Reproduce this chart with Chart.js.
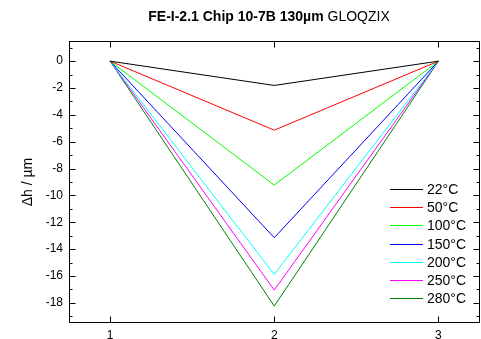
<!DOCTYPE html>
<html>
<head>
<meta charset="utf-8">
<script src="https://cdn.jsdelivr.net/npm/chart.js@4"></script>
<style>
  html, body { margin: 0; padding: 0; background: #fff; }
  #wrap { width: 481px; height: 339px; }
</style>
</head>
<body>
<div id="wrap"><canvas id="grafico"></canvas></div>
<script>
// dados
const posicoes = [1, 2, 3]
const temperaturas = ['22°C', '50°C', '100°C', '150°C', '200°C', '250°C', '280°C']
const h22 = [0, -1.81, 0]
const h50 = [0, -5.14, 0]
const h100 = [0, -9.23, 0]
const h150 = [0, -13.15, 0]
const h200 = [0, -15.88, 0]
const h250 = [0, -17.05, 0]
const h280 = [0, -18.24, 0]
const xTicks = [1, 2, 3]
const yTicks = [0, -2, -4, -6, -8, -10, -12, -14, -16, -18]
const yMinor = [1, -1, -3, -5, -7, -9, -11, -13, -15, -17, -19]

const cores = ['#000000', '#ff0000', '#00ff00', '#0000ff', '#00ffff', '#ff00ff', '#008000']
const series = [h22, h50, h100, h150, h200, h250, h280]

const fonte = 'Arial, "Liberation Sans", sans-serif'

const datasets = series.map((s, i) => ({
  label: temperaturas[i],
  data: posicoes.map((x, j) => ({ x, y: s[j] })),
  borderColor: cores[i],
  borderWidth: 1,
  pointRadius: 0,
  fill: false,
  tension: 0
}))

// moldura com ticks para dentro
const moldura = {
  id: 'moldura',
  afterDraw(chart) {
    const c = chart.ctx
    const a = chart.chartArea
    const sx = chart.scales.x, sy = chart.scales.y
    c.save()
    c.strokeStyle = '#000'
    c.lineWidth = 1
    const L = Math.round(a.left) + 0.5, R = Math.round(a.right) - 0.5
    const T = Math.round(a.top) + 0.5, B = Math.round(a.bottom) - 0.5
    c.strokeRect(L, T, R - L, B - T)
    c.beginPath()
    yTicks.forEach(v => {
      const p = Math.round(sy.getPixelForValue(v)) + 0.5
      c.moveTo(L, p); c.lineTo(L + 6, p)
      c.moveTo(R, p); c.lineTo(R - 6, p)
    })
    yMinor.forEach(v => {
      const p = Math.round(sy.getPixelForValue(v)) + 0.5
      c.moveTo(L, p); c.lineTo(L + 3, p)
      c.moveTo(R, p); c.lineTo(R - 3, p)
    })
    xTicks.forEach(v => {
      const p = Math.round(sx.getPixelForValue(v)) + 0.5
      c.moveTo(p, B); c.lineTo(p, B - 6)
      c.moveTo(p, T); c.lineTo(p, T + 6)
    })
    c.stroke()

    // titulo: parte em negrito + parte normal
    const t1 = 'FE-I-2.1 Chip 10-7B 130µm '
    const t2 = 'GLOQZIX'
    c.font = 'bold 14px ' + fonte
    const w1 = c.measureText(t1).width
    c.font = '14px ' + fonte
    const w2 = c.measureText(t2).width
    const x0 = 269 - (w1 + w2) / 2
    c.fillStyle = '#000'
    c.textBaseline = 'middle'
    c.textAlign = 'left'
    c.font = 'bold 14px ' + fonte
    c.fillText(t1, x0, 17)
    c.font = '14px ' + fonte
    c.fillText(t2, x0 + w1, 17)

    // legenda dentro do grafico
    c.font = '14px ' + fonte
    chart.data.datasets.forEach((d, i) => {
      const y = Math.round(189 + i * 18.2) + 0.5
      c.strokeStyle = d.borderColor
      c.beginPath()
      c.moveTo(390, y); c.lineTo(423, y)
      c.stroke()
      c.fillStyle = '#000'
      c.fillText(d.label, 427, y + 1)
    })
    c.restore()
  }
}

const ctx = document.getElementById('grafico')

const graph = new Chart(ctx, {
  type: 'line',
  data: { datasets },
  options: {
    responsive: true,
    maintainAspectRatio: false,
    animation: false,
    layout: { padding: { left: 0, top: 41, right: 1.5, bottom: 0 } },
    plugins: {
      legend: { display: false },
      title: { display: false },
      tooltip: { enabled: false }
    },
    scales: {
      x: {
        type: 'linear',
        min: 0.75,
        max: 3.25,
        grid: { display: false, drawTicks: false },
        border: { display: false },
        ticks: { color: '#000', font: { size: 12, family: fonte }, padding: 5, maxRotation: 0 },
        afterBuildTicks: s => { s.ticks = xTicks.map(v => ({ value: v })) },
        afterFit: s => { s.height = 16 }
      },
      y: {
        min: -19.5,
        max: 1.5,
        grid: { display: false, drawTicks: false },
        border: { display: false },
        ticks: { color: '#000', font: { size: 12, family: fonte }, padding: 6 },
        afterBuildTicks: s => { s.ticks = yTicks.map(v => ({ value: v })) },
        afterFit: s => { s.width = 69 },
        title: {
          display: true,
          text: 'Δh / µm',
          color: '#000',
          font: { size: 14, family: fonte },
          padding: { top: 20, bottom: 0 }
        }
      }
    }
  },
  plugins: [moldura]
})
</script>
</body>
</html>
